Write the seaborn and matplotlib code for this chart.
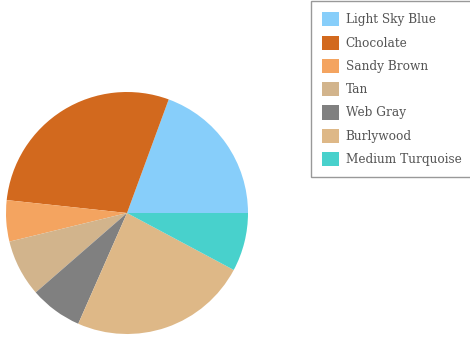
import matplotlib
matplotlib.use("Agg")
import matplotlib.pyplot as plt
import seaborn as sns
from matplotlib.patches import Patch

labels = ["Light Sky Blue", "Chocolate", "Sandy Brown", "Tan", "Web Gray", "Burlywood", "Medium Turquoise"]
values = [19.4, 28.9, 5.5, 7.6, 7.0, 23.8, 7.8]
hex_colors = ["#87CEFA", "#D2691E", "#F4A460", "#D2B48C", "#808080", "#DEB887", "#48D1CC"]

sns.set_theme(style="white")
plt.rcParams["font.family"] = ["DejaVu Serif"]
palette = sns.color_palette(hex_colors)

W, H = 470, 341
fig = plt.figure(figsize=(W / 100, H / 100), dpi=100)
cx, cy, r = 127, 213, 121
ax = fig.add_axes([(cx - r) / W, (H - cy - r) / H, 2 * r / W, 2 * r / H])
ax.pie(values, colors=palette, startangle=0, counterclock=True,
       wedgeprops=dict(linewidth=0))
ax.set_xlim(-1, 1)
ax.set_ylim(-1, 1)
ax.set_aspect("equal")
ax.axis("off")

handles = [Patch(facecolor=c, edgecolor="none") for c in palette]
fs = 8.7
leg = fig.legend(handles, labels, loc="lower left",
                 bbox_to_anchor=(311 / W, (H - 177) / H, 1.0, 0.6),
                 mode="expand", borderaxespad=0, fontsize=fs,
                 handlelength=1.42, handleheight=1.42, handletextpad=0.55,
                 labelspacing=0.76, borderpad=0.9, fancybox=False,
                 frameon=True, labelcolor="#555555")
leg.get_frame().set_edgecolor("#808080")
leg.get_frame().set_linewidth(1.0)

fig.savefig("out.png", dpi=100)
